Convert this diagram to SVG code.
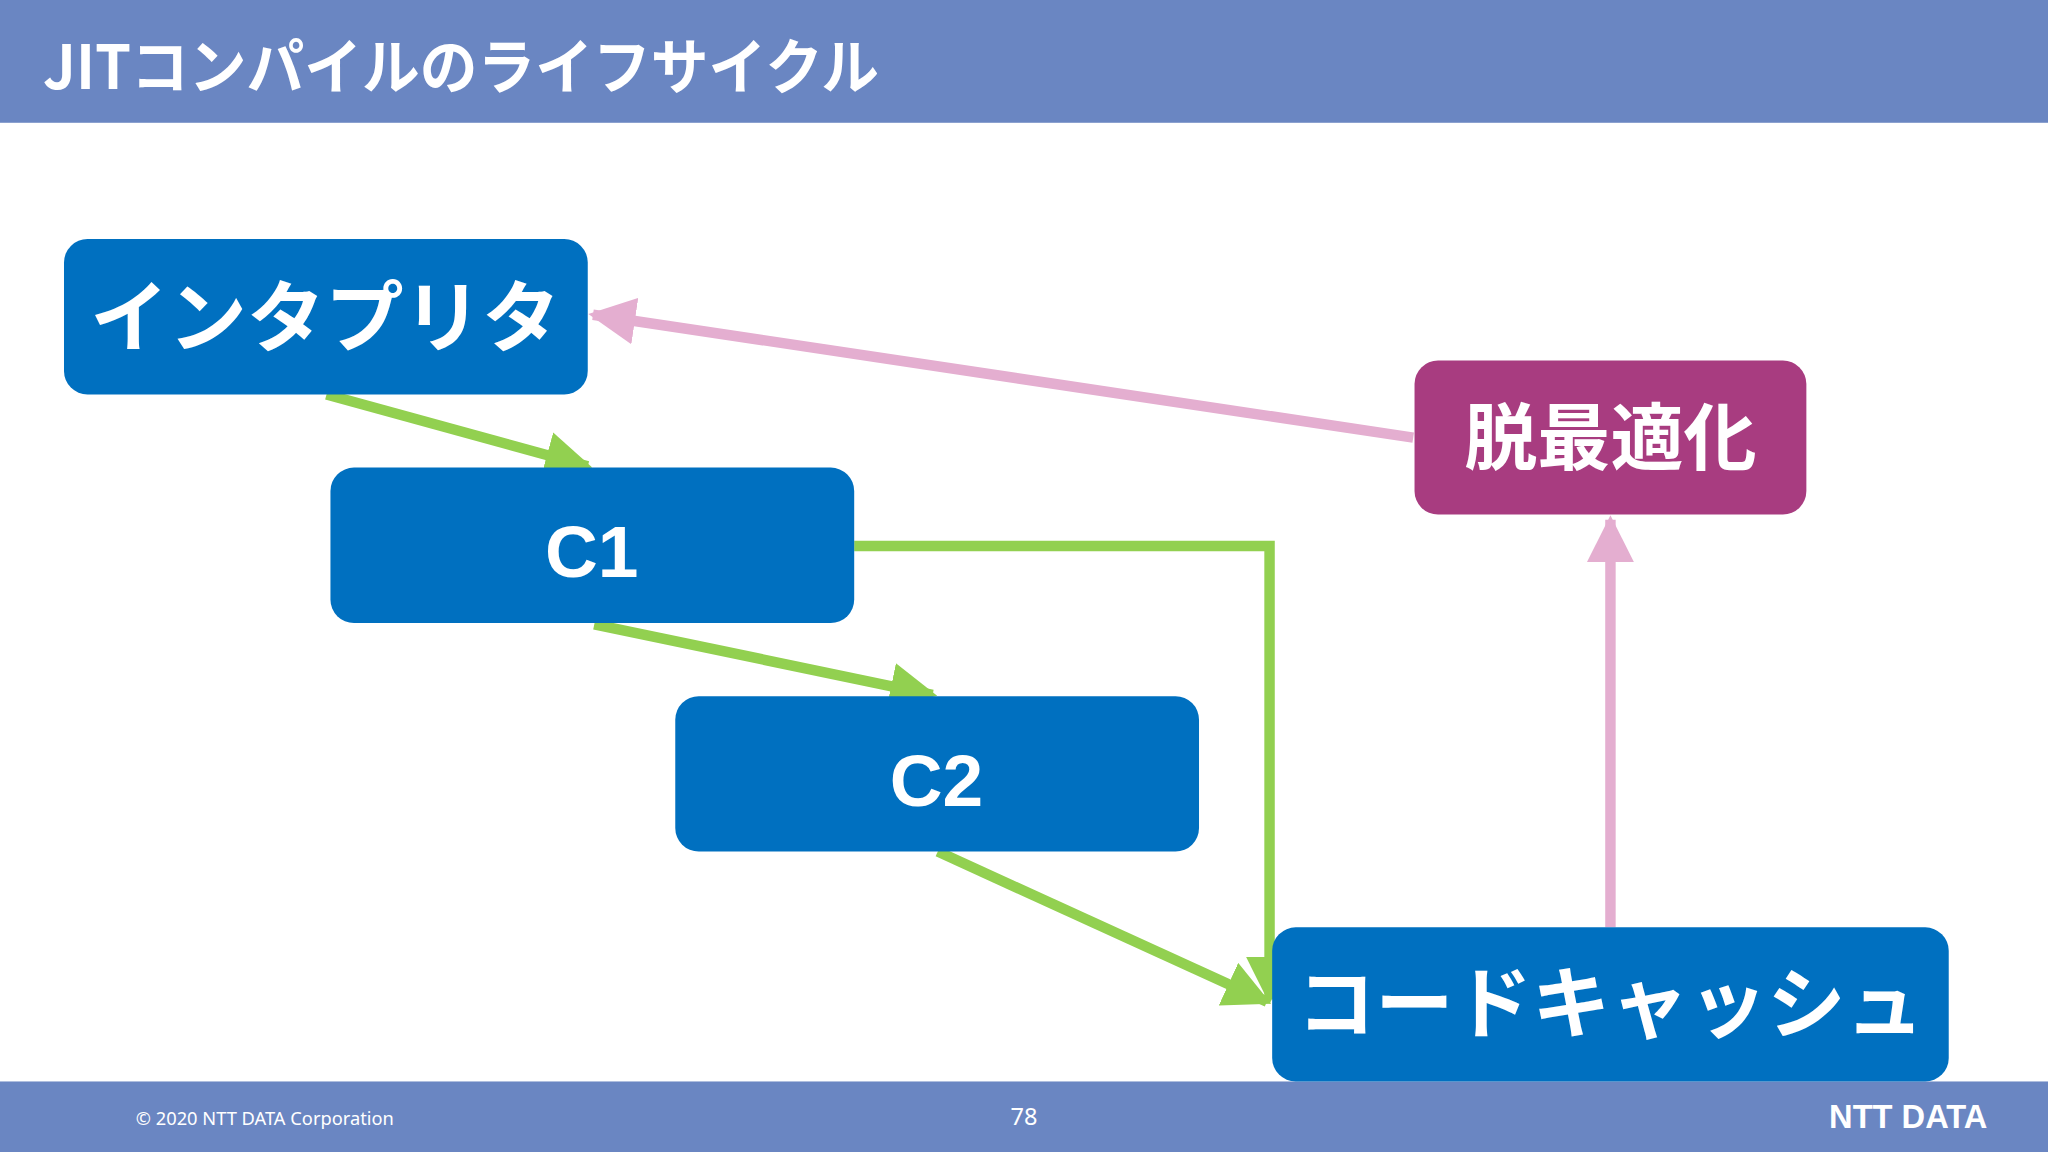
<svg xmlns="http://www.w3.org/2000/svg" width="2048" height="1152" viewBox="0 0 2048 1152">
<defs>
<style>
.bar{fill:#6a86c2}
.box{fill:#0070c0}
.t{font-family:"Noto Sans CJK JP","Liberation Sans",sans-serif;font-weight:bold;fill:#fff;text-anchor:middle}
.c{font-family:"Liberation Sans",sans-serif;font-weight:bold;fill:#fff;text-anchor:middle}
.g{stroke:#92d050;stroke-width:8;fill:none}
.p{stroke:#e4aed0;stroke-width:8;fill:none}
</style>
<marker id="ag" viewBox="0 0 10 10" refX="9" refY="5" markerWidth="4.5" markerHeight="4.5" orient="auto" markerUnits="strokeWidth"><path d="M0,0L10,5L0,10z" fill="#92d050"/></marker>
<marker id="ap" viewBox="0 0 10 10" refX="9" refY="5" markerWidth="4.5" markerHeight="4.5" orient="auto" markerUnits="strokeWidth"><path d="M0,0L10,5L0,10z" fill="#e4aed0"/></marker>
</defs>
<rect width="2048" height="1152" fill="#fff"/>
<g transform="scale(1.30612)">
<rect class="bar" x="0" y="0" width="1568" height="94"/>
<text x="33" y="68" font-family="Noto Sans CJK JP,sans-serif" font-weight="bold" font-size="46" fill="#fff" textLength="640" lengthAdjust="spacingAndGlyphs">JITコンパイルのライフサイクル</text>
<rect class="bar" x="0" y="828" width="1568" height="54"/>
<g id="connectors">
<path class="g" d="M250,302L450,357" marker-end="url(#ag)"/>
<path class="g" d="M455,478L714,532" marker-end="url(#ag)"/>
<path class="g" d="M718,652L970,767" marker-end="url(#ag)"/>
<path class="g" d="M654,418H972V765" marker-end="url(#ag)"/>
<path class="p" d="M1082,335L454,241" marker-end="url(#ap)"/>
<path class="p" d="M1233,710V398" marker-end="url(#ap)"/>
</g>
<g id="interpreter"><rect class="box" x="49" y="183" width="401" height="119" rx="18"/><text class="t" x="249" y="265" font-size="60">インタプリタ</text></g>
<g id="c1"><rect class="box" x="253" y="358" width="401" height="119" rx="18"/><text class="c" x="453" y="442" font-size="56">C1</text></g>
<g id="c2"><rect class="box" x="517" y="533" width="401" height="119" rx="18"/><text class="c" x="717" y="617" font-size="56">C2</text></g>
<g id="deopt"><rect x="1083" y="276" width="300" height="118" rx="18" fill="#a83c80"/><text class="t" x="1233" y="355" font-size="56">脱最適化</text></g>
<g id="codecache"><rect class="box" x="974" y="710" width="518" height="118" rx="18"/><text class="t" x="1233" y="790" font-size="60">コードキャッシュ</text></g>
<text x="104" y="861" font-family="Noto Sans,sans-serif" font-size="14" fill="#fff">© 2020 NTT DATA Corporation</text>
<text x="784" y="861" font-family="Noto Sans,sans-serif" font-size="18" fill="#fff" text-anchor="middle">78</text>
<text x="1461" y="864" font-family="Liberation Sans,sans-serif" font-weight="bold" font-size="25" fill="#fff" text-anchor="middle">NTT DATA</text>
</g>
</svg>
